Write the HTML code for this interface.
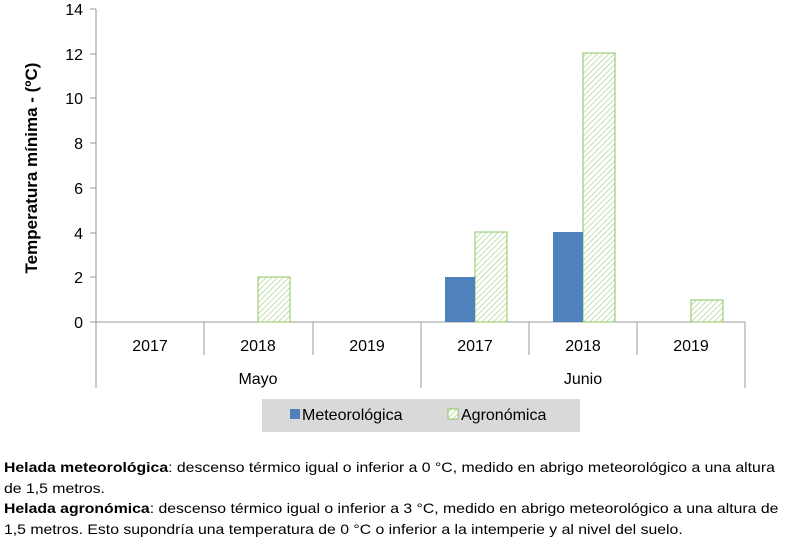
<!DOCTYPE html>
<html><head><meta charset="utf-8"><style>
body{margin:0;background:#fff;width:800px;height:540px;overflow:hidden;font-family:"Liberation Sans",sans-serif;}
.t{position:absolute;left:4px;font-size:14px;color:#000;white-space:nowrap;transform:scaleX(1.128);transform-origin:0 0}
</style></head><body>
<svg width="800" height="540" style="position:absolute;left:0;top:0" font-family="Liberation Sans, sans-serif">
<defs><pattern id="p" width="4" height="4" patternUnits="userSpaceOnUse" patternTransform="rotate(45)"><rect width="4" height="4" fill="#fff"/><line x1="0" y1="0" x2="0" y2="4" stroke="#b5d79a" stroke-width="1.6"/></pattern></defs>
<g stroke="#999" stroke-width="1">
<line x1="96" y1="9" x2="96" y2="388"/>
<line x1="90" y1="9" x2="96" y2="9"/><line x1="90" y1="54" x2="96" y2="54"/><line x1="90" y1="98" x2="96" y2="98"/><line x1="90" y1="143" x2="96" y2="143"/><line x1="90" y1="188" x2="96" y2="188"/><line x1="90" y1="233" x2="96" y2="233"/><line x1="90" y1="277" x2="96" y2="277"/>
<line x1="90" y1="322" x2="745" y2="322"/>
<line x1="204" y1="322" x2="204" y2="355"/><line x1="313" y1="322" x2="313" y2="355"/><line x1="529" y1="322" x2="529" y2="355"/><line x1="637" y1="322" x2="637" y2="355"/>
<line x1="421" y1="322" x2="421" y2="388"/><line x1="745" y1="322" x2="745" y2="388"/>
</g>
<g font-size="16" text-anchor="end" fill="#000">
<text x="83" y="15">14</text><text x="83" y="60">12</text><text x="83" y="104">10</text><text x="83" y="149">8</text><text x="83" y="194">6</text><text x="83" y="239">4</text><text x="83" y="283">2</text><text x="83" y="328">0</text>
</g>
<text transform="translate(37,168) rotate(-90)" font-size="17" font-weight="bold" text-anchor="middle">Temperatura mínima - (ºC)</text>
<g fill="url(#p)" stroke="#8dc563" stroke-width="1">
<rect x="258" y="277" width="32" height="45"/>
<rect x="475" y="232" width="32" height="90"/>
<rect x="583" y="53" width="32" height="269"/>
<rect x="691" y="300" width="32" height="22"/>
</g>
<g fill="#4f81bd">
<rect x="445" y="277" width="30" height="45"/>
<rect x="553" y="232" width="30" height="90"/>
</g>
<g font-size="16" text-anchor="middle">
<text x="150" y="351">2017</text><text x="258" y="351">2018</text><text x="367" y="351">2019</text><text x="475" y="351">2017</text><text x="583" y="351">2018</text><text x="691" y="351">2019</text>
<text x="258" y="384">Mayo</text><text x="583" y="384">Junio</text>
</g>
<rect x="262" y="399" width="318" height="33" fill="#d9d9d9"/>
<rect x="290" y="409" width="10" height="10" fill="#4f81bd"/>
<text x="302" y="420" font-size="16">Meteorológica</text>
<rect x="448" y="409" width="10" height="10" fill="url(#p)" stroke="#8dc563"/>
<text x="461" y="420" font-size="16">Agronómica</text>
</svg>
<div class="t" style="top:459px"><b>Helada meteorológica</b>: descenso térmico igual o inferior a 0 °C, medido en abrigo meteorológico a una altura</div>
<div class="t" style="top:480px">de 1,5 metros.</div>
<div class="t" style="top:500px"><b>Helada agronómica</b>: descenso térmico igual o inferior a 3 °C, medido en abrigo meteorológico a una altura de</div>
<div class="t" style="top:521px">1,5 metros. Esto supondría una temperatura de 0 °C o inferior a la intemperie y al nivel del suelo.</div>
</body></html>
